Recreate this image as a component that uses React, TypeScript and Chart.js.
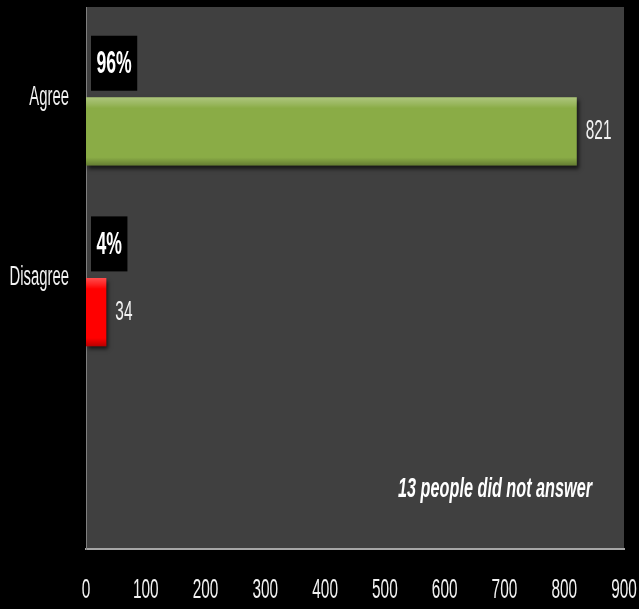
import React, { useEffect, useRef } from "react";
import { Chart, registerables } from "chart.js";

Chart.register(...registerables);

const categories = ["Agree", "Disagree", ""];
const responses = [821, 34, null];
const percentValues = [96, 4, null];
const percentLabels = ["96%", "4%", ""];
const barColors = ["#8aac46", "#ff0000", "#ff0000"];
const xMin = 0;
const xMax = 900;
const xStep = 100;
const xTickLabels = ["0", "100", "200", "300", "400", "500", "600", "700", "800", "900"];
const note = "13 people did not answer";

const FONT = "'Liberation Sans', Arial, sans-serif";
const SX = 0.55; // horizontal squeeze to emulate the narrow face

function squeezedText(
  ctx: CanvasRenderingContext2D,
  text: string,
  x: number,
  y: number,
  font: string,
  align: CanvasTextAlign,
  sx: number,
  color: string
) {
  ctx.save();
  ctx.font = font;
  ctx.fillStyle = color;
  ctx.textBaseline = "middle";
  ctx.textAlign = align;
  ctx.translate(x, y);
  ctx.scale(sx, 1);
  ctx.fillText(text, 0, 0);
  ctx.restore();
}

const decorPlugin = {
  id: "decor",
  beforeDraw(chart: any) {
    const { ctx, chartArea: a, width, height } = chart;
    ctx.save();
    ctx.fillStyle = "#000000";
    ctx.fillRect(0, 0, width, height);
    ctx.fillStyle = "#404040";
    ctx.fillRect(a.left, a.top, a.right - a.left, a.bottom - a.top);
    ctx.restore();
  },
  beforeDatasetDraw(chart: any, args: any) {
    if (args.index === 1) {
      const ctx = chart.ctx;
      ctx.save();
      ctx.shadowColor = "rgba(0,0,0,0.65)";
      ctx.shadowOffsetX = 2;
      ctx.shadowOffsetY = 3;
      ctx.shadowBlur = 4;
    }
  },
  afterDatasetDraw(chart: any, args: any) {
    if (args.index === 1) {
      chart.ctx.restore();
    }
  },
  afterDraw(chart: any) {
    const { ctx, chartArea: a } = chart;
    const xs = chart.scales.x;
    const ys = chart.scales.y;
    // axis tick labels, placed by the chart's own scales
    xTickLabels.forEach((t, i) => {
      const v = xMin + i * xStep;
      squeezedText(ctx, t, xs.getPixelForValue(v), a.bottom + 41, `28px ${FONT}`, "center", SX, "#f2f2f2");
    });
    categories.forEach((c, i) => {
      if (!c) return;
      squeezedText(ctx, c, a.left - 17, ys.getPixelForValue(i), `27px ${FONT}`, "right", SX, "#f2f2f2");
    });
  },
  afterDatasetsDraw(chart: any) {
    const { ctx, chartArea: a } = chart;
    const meta = chart.getDatasetMeta(1);
    meta.data.forEach((el: any, i: number) => {
      if (responses[i] == null) return;
      const top = el.y - el.height / 2;
      const bottom = el.y + el.height / 2;
      const left = el.base;
      const right = el.x;
      ctx.save();
      const g = ctx.createLinearGradient(0, top, 0, bottom);
      g.addColorStop(0, "rgba(255,255,255,0.30)");
      g.addColorStop(0.1, "rgba(255,255,255,0.12)");
      g.addColorStop(0.16, "rgba(255,255,255,0)");
      g.addColorStop(0.88, "rgba(0,0,0,0)");
      g.addColorStop(1, "rgba(0,0,0,0.28)");
      ctx.fillStyle = g;
      ctx.fillRect(left, top, right - left, bottom - top);
      ctx.restore();
      squeezedText(ctx, String(responses[i]), right + 9, el.y, `28px ${FONT}`, "left", SX, "#f2f2f2");
    });
    const pmeta = chart.getDatasetMeta(0);
    pmeta.data.forEach((el: any, i: number) => {
      const label = percentLabels[i];
      if (!label) return;
      ctx.save();
      const font = `bold 32px ${FONT}`;
      ctx.font = font;
      const w = ctx.measureText(label).width * SX;
      const h = 55;
      const x = a.left + 5;
      ctx.fillStyle = "#000000";
      ctx.fillRect(x, el.y - h / 2, w + 11, h);
      ctx.restore();
      squeezedText(ctx, label, x + 5.5, el.y + 1, font, "left", SX, "#ffffff");
    });
    squeezedText(
      ctx,
      note,
      a.left + (a.right - a.left) * 0.58,
      a.top + (a.bottom - a.top) * 0.889,
      `italic bold 28px ${FONT}`,
      "left",
      0.58,
      "#ffffff"
    );
  },
};

export default function App() {
  const ref = useRef<HTMLCanvasElement | null>(null);
  useEffect(() => {
    document.body.style.margin = "0";
    document.body.style.background = "#000";
    const chart = new Chart(ref.current as HTMLCanvasElement, {
      type: "bar",
      data: {
        labels: categories,
        datasets: [
          {
            label: "Percent",
            data: percentValues as any,
            backgroundColor: "rgba(0,0,0,0)",
            borderWidth: 0,
          },
          {
            label: "Responses",
            data: responses as any,
            backgroundColor: barColors,
            borderWidth: 0,
          },
        ],
      },
      options: {
        indexAxis: "y",
        animation: false,
        responsive: false,
        maintainAspectRatio: false,
        layout: { padding: { top: 7, right: 15, left: 0, bottom: 0 } },
        datasets: { bar: { categoryPercentage: 0.755, barPercentage: 1.0 } },
        plugins: {
          legend: { display: false },
          tooltip: { enabled: false },
        },
        scales: {
          x: {
            min: xMin,
            max: xMax,
            grid: { display: false, drawTicks: false },
            border: { display: true, color: "#a6a6a6", width: 2 },
            ticks: { display: false, stepSize: xStep },
            afterFit(scale: any) {
              scale.height = 60;
            },
          },
          y: {
            grid: { display: false, drawTicks: false },
            border: { display: true, color: "#7f7f7f", width: 1 },
            ticks: { display: false },
            afterFit(scale: any) {
              scale.width = 86;
            },
          },
        },
      } as any,
      plugins: [decorPlugin],
    });
    return () => chart.destroy();
  }, []);
  return (
    <div style={{ width: 639, height: 609, background: "#000" }}>
      <canvas ref={ref} width={639} height={609} style={{ display: "block" }} />
    </div>
  );
}
